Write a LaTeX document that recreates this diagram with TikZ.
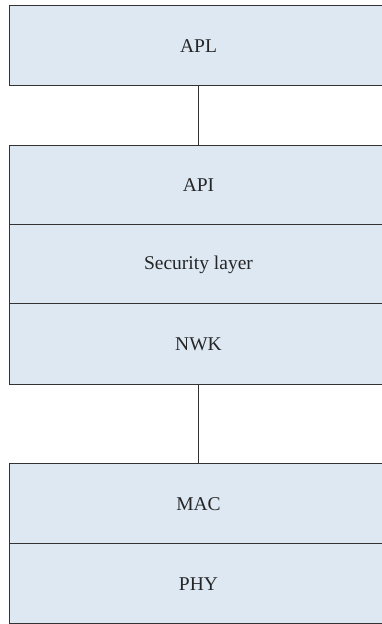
\documentclass[tikz,border=0pt]{standalone}
\usepackage{fontspec}
\setmainfont{Liberation Serif}
\definecolor{boxfill}{HTML}{DDE8F2}
\definecolor{boxline}{HTML}{333333}
\begin{document}
\begin{tikzpicture}[x=1pt,y=1pt,
  layer/.style={draw=boxline,fill=boxfill,line width=1pt,rectangle,outer sep=0pt,inner sep=0pt,
    minimum width=379pt,font=\fontsize{19.5}{21}\selectfont,text=black!85},
  link/.style={draw=boxline,line width=1pt}]
\useasboundingbox (0,0) rectangle (382,624);
\begin{scope}
\clip (0,0) rectangle (382,624);
\node[layer,minimum height=80pt] (apl) at (198.5,578) {APL};
\node[layer,minimum height=79pt] (api) at (198.5,438.5) {API};
\node[layer,minimum height=79pt] (sec) at (198.5,359.5) {Security layer};
\node[layer,minimum height=81pt] (nwk) at (198.5,279.5) {NWK};
\node[layer,minimum height=80pt] (mac) at (198.5,120) {MAC};
\node[layer,minimum height=80pt] (phy) at (198.5,40) {PHY};
\draw[link] (apl.south) -- (api.north);
\draw[link] (nwk.south) -- (mac.north);
\end{scope}
\end{tikzpicture}
\end{document}
